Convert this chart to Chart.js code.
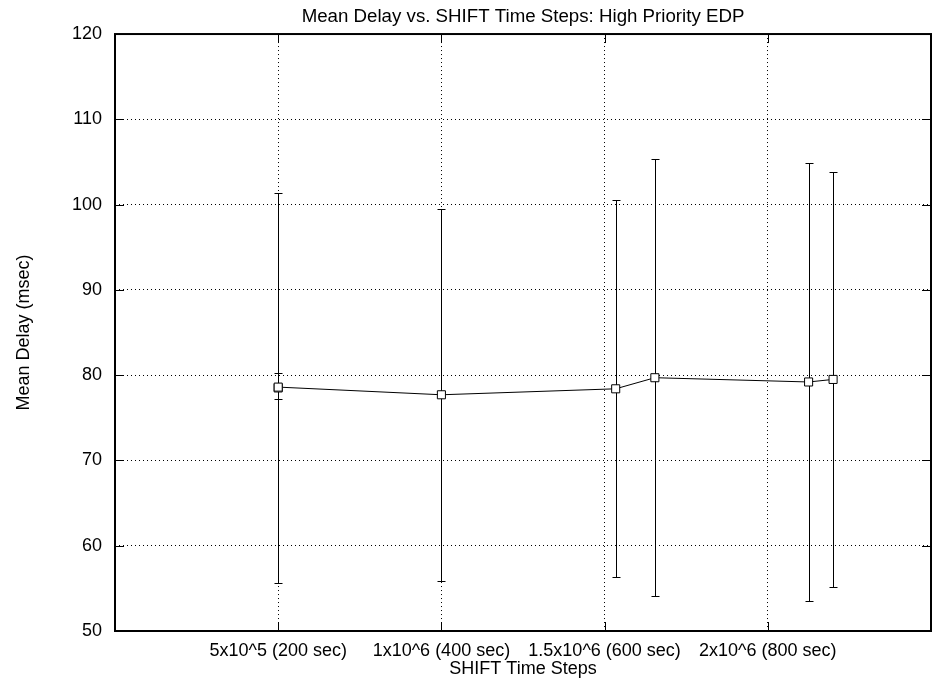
<!DOCTYPE html>
<html>
<head>
<meta charset="utf-8">
<script src="https://cdn.jsdelivr.net/npm/chart.js@4.4.0/dist/chart.umd.min.js"></script>
<style>
  html, body { margin: 0; padding: 0; background: #fff; }
  #wrap { width: 932px; height: 687px; }
</style>
</head>
<body>
<div id="wrap"><canvas id="delayChart" width="932" height="687"></canvas></div>
<script>
// runs: SHIFT time steps, mean delay and the min/max bar (two runs at 5x10^5)
const timeSteps = [5e5, 5e5, 1e6, 1.534e6, 1.654e6, 2.125e6, 2.2e6];
const meanDelay = [78.5, 78.6, 77.7, 78.4, 79.7, 79.2, 79.5];
const delayLow = [55.6, 77.2, 55.9, 56.3, 54.1, 53.5, 55.2];
const delayHigh = [101.4, 80.3, 99.5, 100.5, 105.3, 104.9, 103.8];

const xTickValues = [5e5, 1e6, 1.5e6, 2e6];
const xTickLabels = ["5x10^5 (200 sec)", "1x10^6 (400 sec)", "1.5x10^6 (600 sec)", "2x10^6 (800 sec)"];
const yTickValues = [50, 60, 70, 80, 90, 100, 110, 120];

Chart.defaults.font.family = "'Liberation Sans', Arial, sans-serif";
Chart.defaults.font.size = 18;
Chart.defaults.color = "#000";

const points = timeSteps.map((t, i) => ({ x: t, y: meanDelay[i] }));

// error bars under the points, frame + inward ticks on top (gnuplot look)
const gnuplotBits = {
  id: "gnuplotBits",
  beforeDatasetsDraw(chart) {
    const { ctx, scales: { x, y } } = chart;
    ctx.save();
    ctx.strokeStyle = "#000";
    ctx.lineWidth = 1;
    ctx.beginPath();
    timeSteps.forEach((t, i) => {
      const px = Math.round(x.getPixelForValue(t)) + 0.5;
      const lo = Math.round(y.getPixelForValue(delayLow[i])) + 0.5;
      const hi = Math.round(y.getPixelForValue(delayHigh[i])) + 0.5;
      ctx.moveTo(px, lo); ctx.lineTo(px, hi);
      ctx.moveTo(px - 4, lo); ctx.lineTo(px + 4, lo);
      ctx.moveTo(px - 4, hi); ctx.lineTo(px + 4, hi);
    });
    ctx.stroke();
    ctx.restore();
  },
  afterDraw(chart) {
    const { ctx, chartArea: a, scales: { x, y } } = chart;
    ctx.save();
    ctx.strokeStyle = "#000";
    ctx.lineWidth = 1;
    ctx.beginPath();
    yTickValues.forEach(v => {
      const py = Math.round(y.getPixelForValue(v)) + 0.5;
      ctx.moveTo(a.left, py); ctx.lineTo(a.left + 9, py);
      ctx.moveTo(a.right, py); ctx.lineTo(a.right - 9, py);
    });
    xTickValues.forEach(v => {
      const px = Math.round(x.getPixelForValue(v)) + 0.5;
      ctx.moveTo(px, a.bottom); ctx.lineTo(px, a.bottom - 9);
      ctx.moveTo(px, a.top); ctx.lineTo(px, a.top + 9);
    });
    ctx.stroke();
    ctx.lineWidth = 2;
    ctx.strokeRect(a.left, a.top, a.right - a.left, a.bottom - a.top);
    ctx.restore();
  }
};

new Chart(document.getElementById("delayChart"), {
  type: "scatter",
  data: {
    datasets: [
      {
        data: points,
        showLine: true,
        borderColor: "#000",
        borderWidth: 1,
        tension: 0,
        pointStyle: "rect",
        pointRadius: 5.7,
        pointBackgroundColor: "#fff",
        pointBorderColor: "#000",
        pointBorderWidth: 1
      },
      {
        data: points,
        showLine: false,
        pointStyle: "circle",
        pointRadius: 2.3,
        pointBackgroundColor: "rgba(0,0,0,0)",
        pointBorderColor: "#000",
        pointBorderWidth: 1
      }
    ]
  },
  options: {
    responsive: false,
    animation: false,
    devicePixelRatio: 1,
    layout: { autoPadding: false, padding: { right: 1 } },
    plugins: {
      legend: { display: false },
      tooltip: { enabled: false },
      title: {
        display: true,
        fullSize: false,
        text: "Mean Delay vs. SHIFT Time Steps: High Priority EDP",
        font: { size: 18.7, weight: "normal" },
        color: "#000",
        padding: { top: 5.8, bottom: 5.8 }
      }
    },
    scales: {
      x: {
        type: "linear",
        min: 0,
        max: 2.5e6,
        afterBuildTicks: s => { s.ticks = xTickValues.map(v => ({ value: v })); },
        afterFit: s => { s.height = 56; s.paddingLeft = 0; s.paddingRight = 0; },
        ticks: {
          autoSkip: false,
          maxRotation: 0,
          padding: 9,
          callback: v => xTickLabels[xTickValues.indexOf(v)]
        },
        grid: { color: "#000", lineWidth: 1, drawTicks: false },
        border: { display: false, dash: [1, 3] },
        title: {
          display: true,
          text: "SHIFT Time Steps",
          font: { size: 18 },
          padding: { top: 0, bottom: 6.7 }
        }
      },
      y: {
        min: 50,
        max: 120,
        afterBuildTicks: s => { s.ticks = yTickValues.map(v => ({ value: v })); },
        afterFit: s => { s.width = 115; s.paddingTop = 0; s.paddingBottom = 0; },
        ticks: { padding: 13 },
        grid: { color: "#000", lineWidth: 1, drawTicks: false },
        border: { display: false, dash: [1, 3] },
        title: {
          display: true,
          text: "Mean Delay (msec)",
          font: { size: 18 },
          padding: { top: 13, bottom: 0 }
        }
      }
    }
  },
  plugins: [gnuplotBits]
});
</script>
</body>
</html>
